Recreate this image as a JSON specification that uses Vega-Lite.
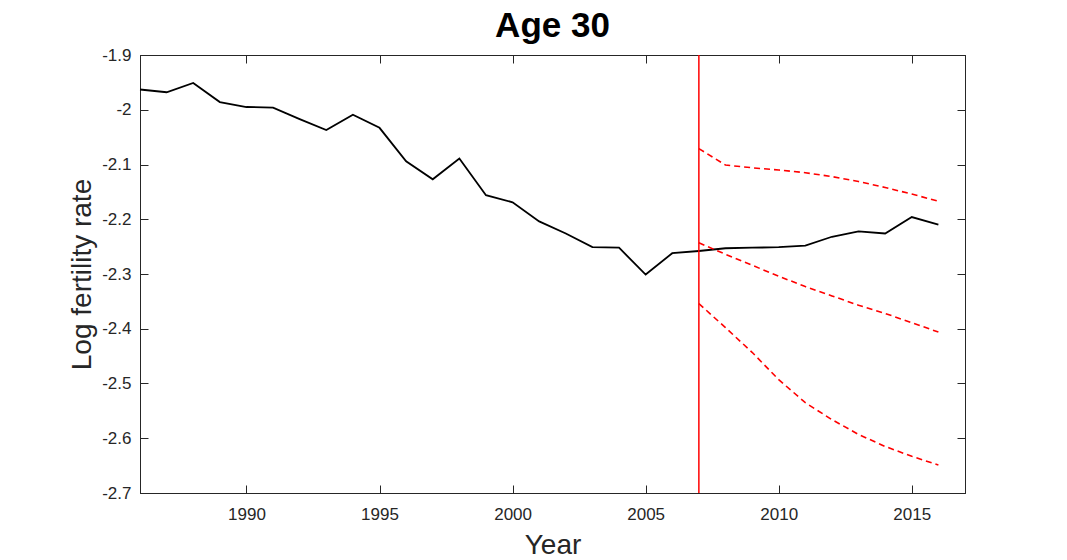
{
  "$schema": "https://vega.github.io/schema/vega-lite/v6.json",
  "width": 825,
  "height": 438,
  "autosize": {"type": "none"},
  "padding": {"left": 140, "top": 55, "right": 102, "bottom": 67},
  "background": "white",
  "title": {
    "text": "Age 30",
    "font": "Liberation Sans",
    "fontSize": 35,
    "fontWeight": "bold",
    "color": "black",
    "anchor": "middle",
    "baseline": "alphabetic",
    "offset": 17,
    "dy": 43
  },
  "config": {
    "font": "Liberation Sans",
    "view": {"stroke": "#262626", "strokeWidth": 1},
    "axis": {
      "grid": false,
      "domainColor": "#262626",
      "tickColor": "#262626",
      "labelColor": "#262626",
      "titleColor": "#262626",
      "labelFont": "Liberation Sans",
      "titleFont": "Liberation Sans",
      "labelFontSize": 17,
      "titleFontSize": 28,
      "titleFontWeight": "normal",
      "tickSize": -8,
      "labelFlush": false,
      "labelOverlap": false
    }
  },
  "datasets": {
    "observed": [
      {"year": 1986, "value": -1.963},
      {"year": 1987, "value": -1.968},
      {"year": 1988, "value": -1.951},
      {"year": 1989, "value": -1.986},
      {"year": 1990, "value": -1.995},
      {"year": 1991, "value": -1.996},
      {"year": 1992, "value": -2.017},
      {"year": 1993, "value": -2.037},
      {"year": 1994, "value": -2.009},
      {"year": 1995, "value": -2.033},
      {"year": 1996, "value": -2.094},
      {"year": 1997, "value": -2.127},
      {"year": 1998, "value": -2.089},
      {"year": 1999, "value": -2.156},
      {"year": 2000, "value": -2.169},
      {"year": 2001, "value": -2.204},
      {"year": 2002, "value": -2.226},
      {"year": 2003, "value": -2.251},
      {"year": 2004, "value": -2.252},
      {"year": 2005, "value": -2.301},
      {"year": 2006, "value": -2.262},
      {"year": 2007, "value": -2.258},
      {"year": 2008, "value": -2.253},
      {"year": 2009, "value": -2.252},
      {"year": 2010, "value": -2.251},
      {"year": 2011, "value": -2.248},
      {"year": 2012, "value": -2.232},
      {"year": 2013, "value": -2.222},
      {"year": 2014, "value": -2.226},
      {"year": 2015, "value": -2.196},
      {"year": 2016, "value": -2.210}
    ],
    "forecast": [
      {"band": "upper", "year": 2007, "value": -2.071},
      {"band": "upper", "year": 2008, "value": -2.101},
      {"band": "upper", "year": 2009, "value": -2.106},
      {"band": "upper", "year": 2010, "value": -2.110},
      {"band": "upper", "year": 2011, "value": -2.115},
      {"band": "upper", "year": 2012, "value": -2.122},
      {"band": "upper", "year": 2013, "value": -2.131},
      {"band": "upper", "year": 2014, "value": -2.142},
      {"band": "upper", "year": 2015, "value": -2.154},
      {"band": "upper", "year": 2016, "value": -2.167},
      {"band": "mean", "year": 2007, "value": -2.243},
      {"band": "mean", "year": 2008, "value": -2.264},
      {"band": "mean", "year": 2009, "value": -2.284},
      {"band": "mean", "year": 2010, "value": -2.304},
      {"band": "mean", "year": 2011, "value": -2.323},
      {"band": "mean", "year": 2012, "value": -2.340},
      {"band": "mean", "year": 2013, "value": -2.357},
      {"band": "mean", "year": 2014, "value": -2.372},
      {"band": "mean", "year": 2015, "value": -2.389},
      {"band": "mean", "year": 2016, "value": -2.406},
      {"band": "lower", "year": 2007, "value": -2.354},
      {"band": "lower", "year": 2008, "value": -2.398},
      {"band": "lower", "year": 2009, "value": -2.443},
      {"band": "lower", "year": 2010, "value": -2.493},
      {"band": "lower", "year": 2011, "value": -2.535},
      {"band": "lower", "year": 2012, "value": -2.566},
      {"band": "lower", "year": 2013, "value": -2.593},
      {"band": "lower", "year": 2014, "value": -2.615},
      {"band": "lower", "year": 2015, "value": -2.633},
      {"band": "lower", "year": 2016, "value": -2.649}
    ],
    "cutoff": [{"year": 2007}]
  },
  "layer": [
    {
      "data": {"name": "observed"},
      "mark": {"type": "line", "color": "black", "strokeWidth": 1.8},
      "encoding": {
        "x": {
          "field": "year",
          "type": "quantitative",
          "scale": {"domain": [1986, 2017], "nice": false, "zero": false},
          "axis": {
            "orient": "bottom",
            "title": "Year",
            "values": [1990, 1995, 2000, 2005, 2010, 2015],
            "format": "d",
            "labelPadding": 21,
            "titleBaseline": "alphabetic",
            "titleY": 60
          }
        },
        "y": {
          "field": "value",
          "type": "quantitative",
          "scale": {"domain": [-2.7, -1.9], "nice": false, "zero": false},
          "axis": {
            "orient": "left",
            "title": "Log fertility rate",
            "values": [-2.7, -2.6, -2.5, -2.4, -2.3, -2.2, -2.1, -2, -1.9],
            "labelExpr": "toString(round(datum.value * 10) / 10)",
            "labelPadding": 17,
            "titleBaseline": "alphabetic",
            "titleX": -50
          }
        }
      }
    },
    {
      "data": {"name": "forecast"},
      "mark": {"type": "line", "color": "#ff0000", "strokeWidth": 1.6, "strokeDash": [6, 4]},
      "encoding": {
        "x": {
          "field": "year",
          "type": "quantitative",
          "scale": {"domain": [1986, 2017], "nice": false, "zero": false},
          "axis": {
            "orient": "top",
            "title": null,
            "labels": false,
            "values": [1990, 1995, 2000, 2005, 2010, 2015]
          }
        },
        "y": {
          "field": "value",
          "type": "quantitative",
          "scale": {"domain": [-2.7, -1.9], "nice": false, "zero": false},
          "axis": {
            "orient": "right",
            "title": null,
            "labels": false,
            "values": [-2.7, -2.6, -2.5, -2.4, -2.3, -2.2, -2.1, -2, -1.9]
          }
        },
        "detail": {"field": "band", "type": "nominal"}
      }
    },
    {
      "data": {"name": "cutoff"},
      "mark": {"type": "rule", "color": "#ff0000", "strokeWidth": 1.5},
      "encoding": {
        "x": {
          "field": "year",
          "type": "quantitative",
          "scale": {"domain": [1986, 2017], "nice": false, "zero": false},
          "axis": null
        }
      }
    }
  ],
  "resolve": {"axis": {"x": "independent", "y": "independent"}}
}
